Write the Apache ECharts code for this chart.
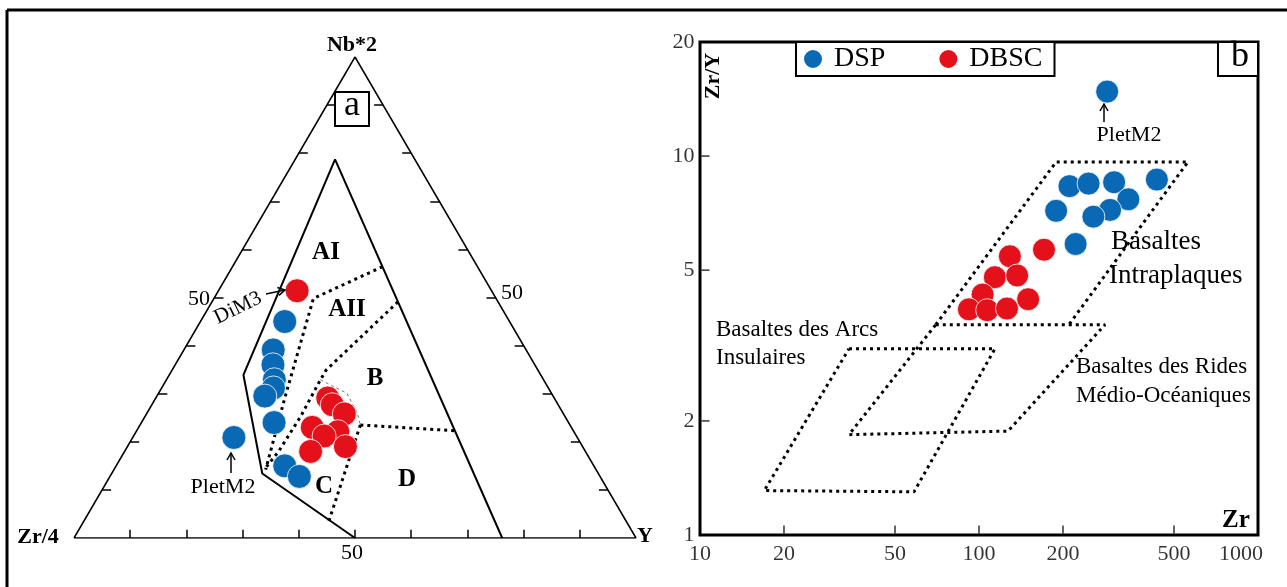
<!DOCTYPE html>
<html>
<head>
<meta charset="utf-8">
<script src="https://cdn.jsdelivr.net/npm/echarts@6/dist/echarts.min.js"></script>
<style>
html, body { margin: 0; padding: 0; background: #fff; }
#chart { width: 1287px; height: 587px; }
</style>
</head>
<body>
<div id="chart"></div>
<script>
// (a) Zr/4 - Nb*2 - Y ternary, every point is [Zr/4, Nb*2, Y] in %
var ternDSP = [
  [40.0, 45.0, 15.0], [45.0, 39.1, 15.9], [46.6, 36.0, 17.4], [47.9, 32.9, 19.2],
  [48.9, 31.2, 19.9], [51.3, 29.5, 19.2], [52.4, 24.0, 23.6], [61.1, 20.9, 18.0],
  [55.0, 15.0, 30.0], [53.5, 12.8, 33.7]
];
var ternDBSC = [
  [34.6, 51.4, 14.0], [40.3, 29.1, 30.6], [40.2, 27.7, 32.1], [39.0, 25.8, 35.2],
  [46.1, 23.0, 30.9], [42.0, 22.1, 35.9], [44.9, 21.2, 33.9], [48.9, 18.0, 33.1],
  [42.2, 19.0, 38.8]
];
var ternFrame = [[100, 0, 0], [0, 100, 0], [0, 0, 100], [100, 0, 0]];
var ternSolid = [[50, 0, 50], [59.8, 13.4, 26.8], [52.9, 33.9, 13.2], [14.2, 78.7, 7.1], [23.8, 0, 76.2]];
var lineAI_AII = [[16.9, 56.4, 26.7], [32.5, 49.8, 17.7], [47.8, 29.3, 22.9], [58.8, 14.2, 27.0]];
var lineAII_B = [[17.8, 49.1, 33.1], [37.7, 34.9, 27.4], [39.7, 32.9, 27.4], [47.1, 25.2, 27.7], [54.7, 17.9, 27.4], [58.6, 14.6, 26.8]];
var lineB_C = [[39.7, 32.9, 27.4], [36.4, 30.1, 33.5], [36.6, 26.0, 37.4], [37.3, 23.5, 39.2]];
var lineB_D = [[37.3, 23.5, 39.2], [21.1, 22.3, 56.6]];
var lineC_D = [[37.3, 23.5, 39.2], [52.9, 3.5, 43.6]];
var ternTicks = [10, 20, 30, 40, 50, 60, 70, 80, 90];

// (b) Zr (ppm) vs Zr/Y
var zrDSP = [
  [288, 14.8], [211, 8.33], [247, 8.46], [305, 8.53], [434, 8.67],
  [343, 7.69], [295, 7.21], [257, 6.92], [189, 7.17], [222, 5.86]
];
var zrDBSC = [
  [171, 5.66], [129, 5.44], [114, 4.79], [137, 4.84], [103, 4.31],
  [150, 4.19], [92, 3.94], [107, 3.92], [126, 3.96]
];
// WPB base is shared with the MORB top edge
var fieldWPB = [[70, 3.59], [189, 9.65], [561, 9.65], [210, 3.59]];
var fieldMORB = [[70, 3.59], [283, 3.59], [127, 1.88], [34.2, 1.84], [70, 3.59]];
var fieldIAB = [[34.2, 3.10], [114, 3.10], [58.5, 1.30], [17.0, 1.31], [34.2, 3.10]];
var zrTicks = [10, 20, 50, 100, 200, 500, 1000];
var zrInnerTicks = [20, 50, 100, 200, 500];
var ratioTicks = [1, 2, 5, 10, 20];
var ratioInnerTicks = [2, 5, 10];

var serif = '"Liberation Serif", "Times New Roman", serif';
var BLUE = '#0a69b4';
var RED = '#e4111b';

// ternary -> cartesian (x along the base, y = Nb*2 height)
function tern (p) {
  return [p[2] + p[1] / 2, p[1]];
}
function ternLine (name, pts, style) {
  return {
    name: name, type: 'line', xAxisIndex: 0, yAxisIndex: 0,
    data: pts.map(tern), symbol: 'none', silent: true,
    lineStyle: style, z: 2
  };
}
var dotted = { color: '#000', width: 3, type: [3, 4] };

var tickSegs = [];
ternTicks.forEach(function (t) {
  tickSegs.push({ coords: [[t, 0], [t, 1.7]] });
  tickSegs.push({ coords: [[t / 2, t], [t / 2 + 1.6, t]] });
  tickSegs.push({ coords: [[100 - t / 2, t], [100 - t / 2 - 1.6, t]] });
});

function txt (x, y, s, size, bold, align, rot) {
  return {
    type: 'text', x: x, y: y, rotation: rot || 0, z: 100,
    style: {
      text: s, fill: '#000',
      font: (bold ? 'bold ' : '') + size + 'px ' + serif,
      align: align || 'center', verticalAlign: 'middle',
      textAlign: align || 'center', textVerticalAlign: 'middle'
    }
  };
}
function arrow (x1, y1, x2, y2) {
  var dx = x2 - x1, dy = y2 - y1, l = Math.sqrt(dx * dx + dy * dy);
  var ux = dx / l, uy = dy / l;
  return [
    { type: 'line', z: 100, shape: { x1: x1, y1: y1, x2: x2, y2: y2 }, style: { stroke: '#000', lineWidth: 1.5 } },
    { type: 'polyline', z: 100, shape: { points: [
      [x2 - 7 * ux - 4 * uy, y2 - 7 * uy + 4 * ux], [x2, y2], [x2 - 7 * ux + 4 * uy, y2 - 7 * uy - 4 * ux]
    ] }, style: { stroke: '#000', lineWidth: 1.5, fill: null } }
  ];
}

var graphics = [
  { type: 'line', z: 100, shape: { x1: 7, y1: 10, x2: 1287, y2: 10 }, style: { stroke: '#000', lineWidth: 3 } },
  { type: 'line', z: 100, shape: { x1: 7, y1: 10, x2: 7, y2: 587 }, style: { stroke: '#000', lineWidth: 3 } },
  { type: 'rect', z: 99, shape: { x: 335, y: 92, width: 34, height: 34 }, style: { stroke: '#000', lineWidth: 2, fill: '#fff' } },
  { type: 'rect', z: 99, shape: { x: 1218, y: 42, width: 40, height: 34 }, style: { stroke: '#000', lineWidth: 2, fill: '#fff' } },
  txt(352, 106, 'a', 36),
  txt(1240, 57, 'b', 36),
  txt(352, 45, 'Nb*2', 22, true),
  txt(38, 537, 'Zr/4', 22, true),
  txt(645, 536, 'Y', 22, true),
  txt(210, 299, '50', 22, false, 'right'),
  txt(501, 293, '50', 22, false, 'left'),
  txt(352, 553, '50', 22),
  txt(326, 253, 'AI', 25, true),
  txt(347, 310, 'AII', 25, true),
  txt(375, 379, 'B', 25, true),
  txt(324, 487, 'C', 25, true),
  txt(407, 480, 'D', 25, true),
  txt(238, 308, 'DiM3', 21, false, 'center', 0.45),
  txt(223, 487, 'PletM2', 22),
  txt(1129, 135, 'PletM2', 22),
  txt(1111, 242, 'Basaltes', 27, false, 'left'),
  txt(1109, 276, 'Intraplaques', 27, false, 'left'),
  txt(716, 330, 'Basaltes des Arcs', 23, false, 'left'),
  txt(716, 358, 'Insulaires', 23, false, 'left'),
  txt(1076, 367, 'Basaltes des Rides', 23, false, 'left'),
  txt(1076, 396, 'Médio-Océaniques', 23, false, 'left'),
  txt(713, 76, 'Zr/Y', 22, true, 'center', Math.PI / 2),
  txt(1236, 521, 'Zr', 25, true)
].concat(arrow(266, 294, 285, 290), arrow(231, 473, 231, 453), arrow(1104, 122, 1104, 104));

var chart = echarts.init(document.getElementById('chart'));
var option = {
  animation: false,
  backgroundColor: '#fff',
  textStyle: { fontFamily: serif },
  legend: {
    left: 796, top: 42,
    data: ['DSP', 'DBSC'],
    icon: 'circle', itemWidth: 20, itemHeight: 20, itemGap: 52,
    padding: [1, 12, 1, 6],
    borderColor: '#000', borderWidth: 2, backgroundColor: '#fff',
    textStyle: { fontFamily: serif, fontSize: 28, color: '#000', padding: [0, 0, 0, 6], lineHeight: 32 }
  },
  grid: [
    { left: 74, top: 57, width: 562, height: 481, show: false },
    { left: 700, top: 42, width: 558, height: 493, show: true, borderColor: '#000', borderWidth: 3 }
  ],
  xAxis: [
    { gridIndex: 0, type: 'value', min: 0, max: 100, show: false },
    { gridIndex: 1, type: 'log', logBase: 10, min: 10, max: 1000,
      axisLine: { show: false }, axisTick: { show: false }, axisLabel: { show: false },
      splitLine: { show: false } }
  ],
  yAxis: [
    { gridIndex: 0, type: 'value', min: 0, max: 100, show: false },
    { gridIndex: 1, type: 'log', logBase: 10, min: 1, max: 20,
      axisLine: { show: false }, axisTick: { show: false }, axisLabel: { show: false },
      splitLine: { show: false } }
  ],
  series: [
    ternLine('frame', ternFrame, { color: '#000', width: 1.5 }),
    {
      name: 'ticks', type: 'lines', coordinateSystem: 'cartesian2d', xAxisIndex: 0, yAxisIndex: 0,
      data: tickSegs, silent: true, lineStyle: { color: '#000', width: 1.5, opacity: 1 }, z: 2
    },
    ternLine('fields', ternSolid, { color: '#000', width: 2 }),
    ternLine('AI-AII', lineAI_AII, dotted),
    ternLine('AII-B', lineAII_B, dotted),
    ternLine('B-C', lineB_C, { color: '#777', width: 1, type: [3, 3] }),
    ternLine('B-D', lineB_D, dotted),
    ternLine('C-D', lineC_D, dotted),
    {
      name: 'DSP', type: 'scatter', xAxisIndex: 0, yAxisIndex: 0,
      data: ternDSP.map(tern), symbolSize: 24, z: 5,
      itemStyle: { color: BLUE, borderColor: '#fff', borderWidth: 0.8, opacity: 1 }
    },
    {
      name: 'DBSC', type: 'scatter', xAxisIndex: 0, yAxisIndex: 0,
      data: ternDBSC.map(tern), symbolSize: 24, z: 5,
      itemStyle: { color: RED, borderColor: '#fff', borderWidth: 0.8, opacity: 1 }
    },
    // panel b
    { name: 'WPB', type: 'line', xAxisIndex: 1, yAxisIndex: 1, data: fieldWPB, symbol: 'none', silent: true, lineStyle: dotted, z: 2 },
    { name: 'MORB', type: 'line', xAxisIndex: 1, yAxisIndex: 1, data: fieldMORB, symbol: 'none', silent: true, lineStyle: dotted, z: 2 },
    { name: 'IAB', type: 'line', xAxisIndex: 1, yAxisIndex: 1, data: fieldIAB, symbol: 'none', silent: true, lineStyle: dotted, z: 2 },
    {
      name: 'xticks', type: 'scatter', xAxisIndex: 1, yAxisIndex: 1, silent: true, clip: false, z: 3,
      data: zrInnerTicks.map(function (v) { return [v, 1]; }),
      symbol: 'rect', symbolSize: [1.5, 8], symbolOffset: [0, -5.5], itemStyle: { color: '#000' }
    },
    {
      name: 'yticks', type: 'scatter', xAxisIndex: 1, yAxisIndex: 1, silent: true, clip: false, z: 3,
      data: ratioInnerTicks.map(function (v) { return [10, v]; }),
      symbol: 'rect', symbolSize: [8, 1.5], symbolOffset: [5.5, 0], itemStyle: { color: '#000' }
    },
    {
      name: 'xlabels', type: 'scatter', xAxisIndex: 1, yAxisIndex: 1, silent: true, clip: false, z: 3,
      data: zrTicks.map(function (v) {
        return v === 1000 ? { value: [v, 1], label: { offset: [-17, 0] } } : [v, 1];
      }),
      symbolSize: 1, itemStyle: { color: 'rgba(0,0,0,0)' },
      label: { show: true, position: 'bottom', distance: 8, fontFamily: serif, fontSize: 22, color: '#000',
        formatter: function (p) { return String(p.value[0]); } }
    },
    {
      name: 'ylabels', type: 'scatter', xAxisIndex: 1, yAxisIndex: 1, silent: true, clip: false, z: 3,
      data: ratioTicks.map(function (v) { return [10, v]; }),
      symbolSize: 1, itemStyle: { color: 'rgba(0,0,0,0)' },
      label: { show: true, position: 'left', distance: 5, fontFamily: serif, fontSize: 22, color: '#000',
        formatter: function (p) { return String(p.value[1]); } }
    },
    {
      name: 'DSP', type: 'scatter', xAxisIndex: 1, yAxisIndex: 1,
      data: zrDSP, symbolSize: 23, z: 5,
      itemStyle: { color: BLUE, borderColor: '#fff', borderWidth: 0.8, opacity: 1 }
    },
    {
      name: 'DBSC', type: 'scatter', xAxisIndex: 1, yAxisIndex: 1,
      data: zrDBSC, symbolSize: 23, z: 5,
      itemStyle: { color: RED, borderColor: '#fff', borderWidth: 0.8, opacity: 1 }
    }
  ],
  graphic: graphics
};
chart.setOption(option);
</script>
</body>
</html>
